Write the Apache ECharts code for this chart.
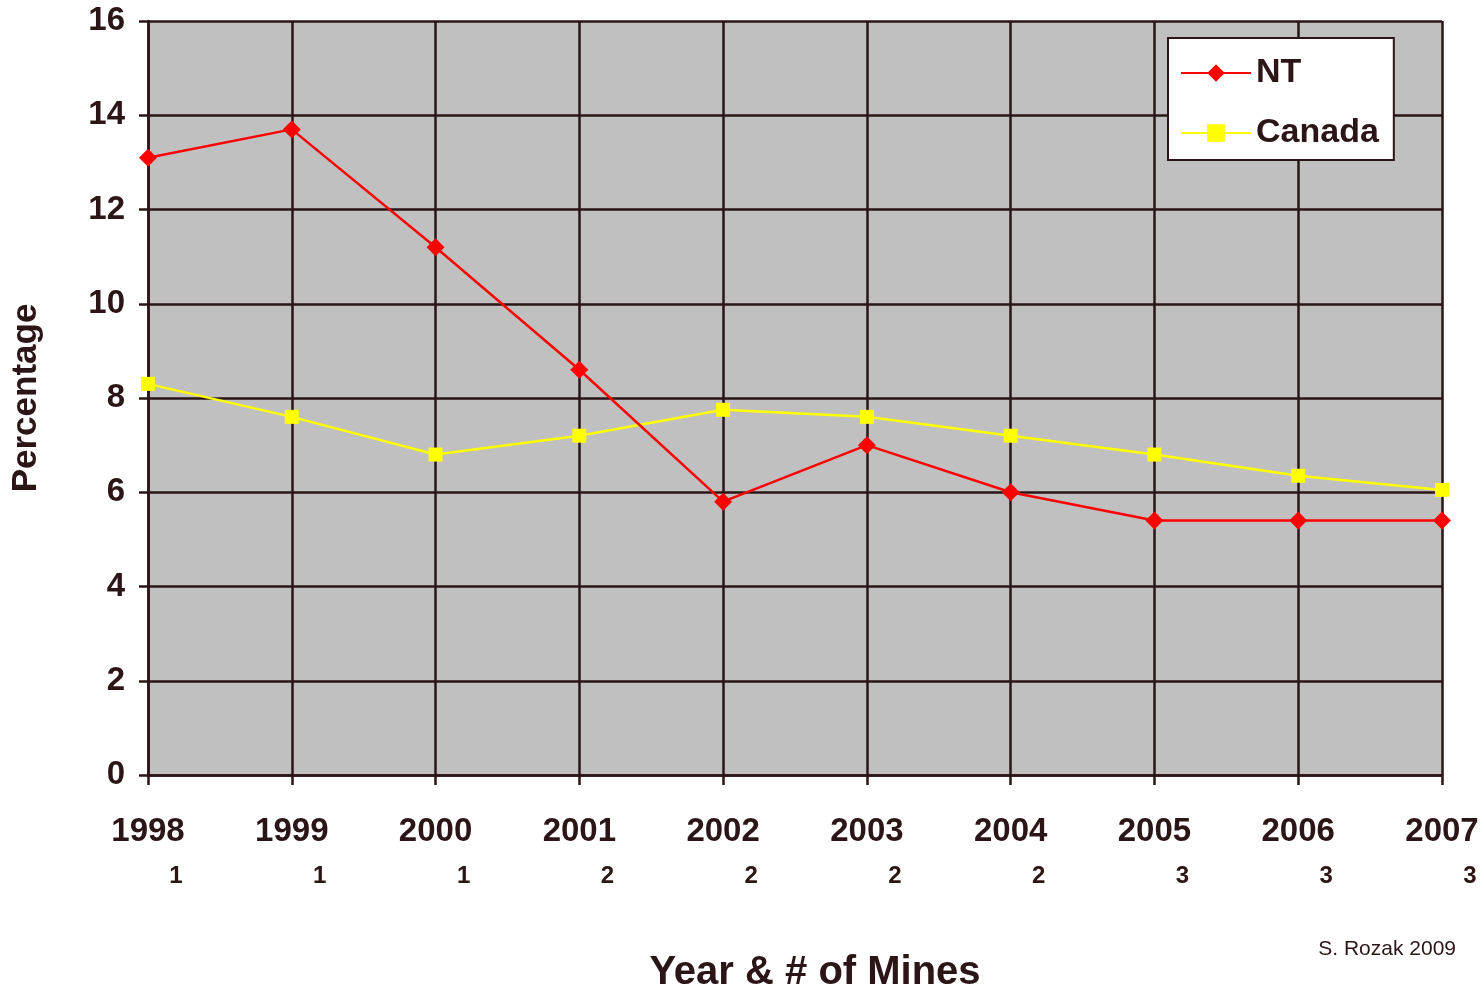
<!DOCTYPE html>
<html>
<head>
<meta charset="utf-8">
<script src="https://cdn.jsdelivr.net/npm/echarts@6/dist/echarts.min.js"></script>
<style>
  html, body { margin: 0; padding: 0; background: #ffffff; }
  #chart { width: 1482px; height: 989px; }
</style>
</head>
<body>
<div id="chart"></div>
<script>
const years = ["1998", "1999", "2000", "2001", "2002", "2003", "2004", "2005", "2006", "2007"];
const mines = [1, 1, 1, 2, 2, 2, 2, 3, 3, 3];
const ntValues = [13.1, 13.7, 11.2, 8.6, 5.8, 7.0, 6.0, 5.4, 5.4, 5.4];
const canadaValues = [8.3, 7.6, 6.8, 7.2, 7.75, 7.6, 7.2, 6.8, 6.35, 6.05];

const ink = "#2b1517";
const font = "'Liberation Sans Narrow', 'Liberation Sans', Arial, sans-serif";

const chart = echarts.init(document.getElementById("chart"));

chart.setOption({
  animation: false,
  backgroundColor: "#ffffff",
  textStyle: { fontFamily: font, color: ink },
  grid: {
    left: 148,
    right: 40,
    top: 21,
    bottom: 214,
    outerBoundsMode: "none",
    show: true,
    backgroundColor: "#c0c0c0",
    borderWidth: 0
  },
  legend: {
    orient: "vertical",
    left: 1168,
    top: 38,
    padding: [15, 15, 7, 12],
    backgroundColor: "#ffffff",
    borderColor: ink,
    borderWidth: 2,
    itemWidth: 70,
    itemHeight: 22,
    itemGap: 20,
    textStyle: { fontFamily: font, fontSize: 34, fontWeight: "bold", color: ink, lineHeight: 40 },
    data: ["NT", "Canada"]
  },
  graphic: [
    {
      type: "text",
      right: 26,
      top: 939,
      style: { text: "S. Rozak 2009", fontFamily: "'Liberation Sans', Arial, sans-serif", fontSize: 21, fill: ink }
    }
  ],
  xAxis: {
    type: "category",
    data: years,
    boundaryGap: false,
    name: "Year & # of Mines",
    nameLocation: "middle",
    nameGap: 178,
    nameTextStyle: { fontFamily: font, fontSize: 40, fontWeight: "bold", color: ink, padding: [0, 0, 0, 40] },
    axisLine: { lineStyle: { color: ink, width: 2.5 } },
    axisTick: { show: true, length: 10, lineStyle: { color: ink, width: 2.5 } },
    splitLine: { show: true, lineStyle: { color: ink, width: 2.5 } },
    axisLabel: {
      margin: 36,
      interval: 0,
      formatter: (value, index) => `{y|${value}}\n{m|${mines[index]}}`,
      rich: {
        y: { fontFamily: font, fontSize: 33, fontWeight: "bold", color: ink, lineHeight: 42 },
        m: { fontFamily: font, fontSize: 24, fontWeight: "bold", color: ink, lineHeight: 46, padding: [0, 0, 0, 56] }
      }
    }
  },
  yAxis: {
    type: "value",
    min: 0,
    max: 16,
    interval: 2,
    name: "Percentage",
    nameLocation: "middle",
    nameGap: 104,
    nameTextStyle: { fontFamily: font, fontSize: 35, fontWeight: "bold", color: ink },
    axisLine: { show: true, lineStyle: { color: ink, width: 2.5 } },
    axisTick: { show: true, length: 9, lineStyle: { color: ink, width: 2.5 } },
    splitLine: { show: true, lineStyle: { color: ink, width: 2.5 } },
    axisLabel: { margin: 23, fontFamily: font, fontSize: 33, fontWeight: "bold", color: ink }
  },
  series: [
    {
      name: "NT",
      type: "line",
      data: ntValues,
      symbol: "diamond",
      symbolSize: 18,
      itemStyle: { color: "#ff0000" },
      lineStyle: { color: "#ff0000", width: 2.5 },
      z: 3
    },
    {
      name: "Canada",
      type: "line",
      data: canadaValues,
      symbol: "rect",
      symbolSize: 14,
      itemStyle: { color: "#ffff00" },
      lineStyle: { color: "#ffff00", width: 2.5 },
      z: 2
    }
  ]
});
</script>
</body>
</html>
